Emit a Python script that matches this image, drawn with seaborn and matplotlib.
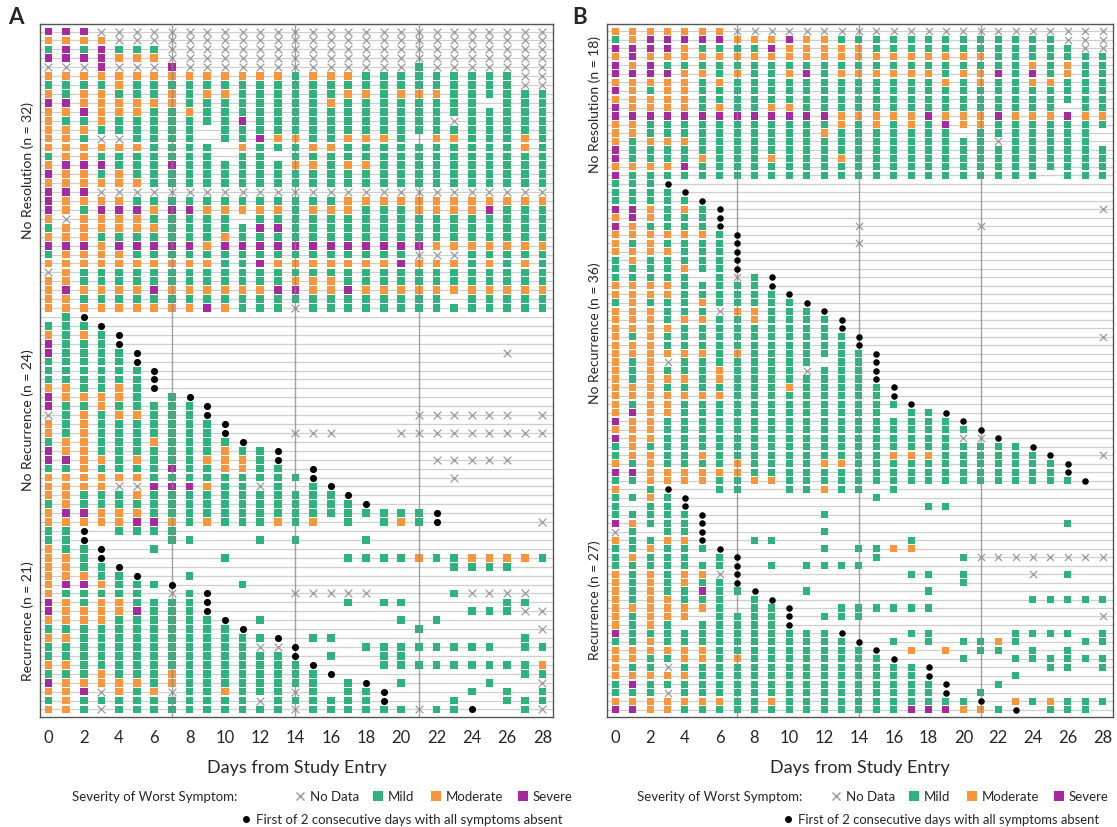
import matplotlib
matplotlib.use("Agg")
import matplotlib.pyplot as plt
import matplotlib.lines as mlines
import matplotlib.transforms as mtransforms
import pandas as pd
import seaborn as sns

# one string per participant, one character per day 0..28
# M mild, O moderate, S severe, X no data, * first of 2 absent days, . nothing
days = list(range(29))
tick_days = list(range(0, 29, 2))

a_rows = [
    "SSSXXXXXXXXXXXX" "XXXXXXXXXXXXXX",
    "OOOOXXXXXXXXXXX" "XXXXXXXXXXXXXX",
    "MSMSMMMXXXXXXXX" "XXXXXXXXXXXXXX",
    "SSSSOOOXXXXXXXX" "XXXXXXXXXXXXXX",
    "XXXSXXXSXXXXXXX" "XXXXXXMXXXXXXX",
    "OOOOOOOOOOOOOOM" "OOOMMMMMMMMMXX",
    "MMMMOMMMMMMMMMM" "MMMMMMMMMMMMXX",
    "OMOOMMMOMOOMMMM" "MMOOMOOOMMMMMM",
    "SSOOOOOOMMMMMMM" "MOMMMMMMMM.MMM",
    "OOSOOOMMOMMMMMM" "MMMMMMMMMMMMMM",
    "OMMOMMMMMMMSMMM" "MMMMMMMMXMMMMM",
    "OOOMMMMMM.MMMMM" "MMMMMMMMMMMMMM",
    "OOMXXMMMM.MMSOO" "MMOOOM.OOMMMOM",
    "OOOOOOMMMM.OMMM" "OOMMMMMMMMMMOM",
    "MOOMMMMMMM.MM.M" "MMMMMMMMMMMMMM",
    "OSSSMMMSMMMMMMO" "OMOOMMMMMMMMMM",
    "SOOMOMMMMMMMMMM" "MMMMMMMMMMMMMM",
    "OOOOOOMMMMMMMMM" "MMMMMMMMMMMMMM",
    "SSSXXXXXXXXXXXX" "XXXXXXXXXXXXXX",
    "SOOOOMMMMMMMMMM" "MMOOOOOOOOOOOO",
    "SOMSSSOSSOOOOOM" "OOOMMMOOOOSMMM",
    "OXOOOOMMMMM.MMM" "MMMMMMMMMMMMMM",
    "MOOOOOOMMMMMSSM" "MMMMMMMMMMMMMM",
    "OOOMMMMMMMOMMMM" "MMMMMMMMMMMMMM",
    "SSSOSSSSSOSSSSS" "SSSSSSSOOOOOOO",
    "MOOOOMMMMMMMMMM" "MMMMMMXXXMMMMM",
    "OOOOOOOOOOMMSOO" "OOOOOSOOOMOMOM",
    "XOMMMMMMMMMMMMM" "MMMMMMMMMMMMMM",
    "OOMMMMMMMMMMMMO" "OOMMMMMMMMMMMM",
    "OSOOOOSOOOOOOSS" "OOSOOOOOOOOOOO",
    "OOMMMMMMMMMMMMM" "MMMMMMMM.MMMMM",
    "OOOOOOOOOSOMMMX" "MMMMMMMMMMMMMM",
    ".M*............" "..............",
    "MMM*..........." "..............",
    "OMOM*.........." "..............",
    "SMMM*.........." "..............",
    "SMMMM*........." "...........X..",
    "MMMMM*........." "..............",
    "MMMMMM*........" "..............",
    "MMMMMM*........" "..............",
    "OOMMOM*........" "..............",
    "SOOOOM.M*......" "..............",
    "SMMOMMMMM*....." "..............",
    "XMOMOOMMM*....." "......XXXXXX.X",
    "OMOMMMMMMM*...." "..............",
    "OMOMMMMMMM*...X" "XX...XXXXXXXXX",
    "MOOMMMOMMMM*..." "..............",
    "SOOMMMMMMMOMM*." "..............",
    "SSOOMOMMMOOOM*." ".......XXXXX..",
    "MMOMMMMSMMOOMM." "*.............",
    "OOOOOOMMMMMMMMM" "*.......X.....",
    "OOOOXXSSSOMMXM." "M*............",
    "OOMMMOMMMMMMMMM" "MM*...........",
    "MOMMMMMMMMMMMMM" "MMM*..........",
    "OSSOOOMMMMMMMMM" "MMMMMMM*......",
    "OOOOOSSOMOMMMOM" "O.M.MOM*.....X",
    "MM*.MMMM......." "..............",
    "MM*....MM...M.M" "...M..........",
    "OMM*..M........" "..............",
    "OOM*......M...." "..MMMMOMMOOOOM",
    "OOMM*.........." "........MMMM..",
    "OOOMM*..M......" "..............",
    "OSSOMMM*...M..." "..............",
    "OMMMMM.XM*....X" "XXXX....MXXXX.",
    "SOMOOMMMM*....." "..M.MM.....MM.",
    "SOOOOSMMM*....." ".........MMMXX",
    "OOOOMMMMMM*.M.." ".....M.M......",
    "MMMMMMMMMMM*..." "......M......X",
    "OOMMMMMMMMMMM*." "MM..........M.",
    "MMMMMMMMMMMMXX*" "...MMMMMMMM.MM",
    "MMMMMMMMMMMMMM*" ".M..MM........",
    "OOMMMMMMMMMMMMM" "*...MMMMMMMMMO",
    "MMMOMMMOMMMMMMM" "M*..........MM",
    "SOOOOOMOMMMMMMM" "M.M*.M....M..X",
    "OOSXOMOXMMOMMMX" "M.MM*....M.M.M",
    "MOMMMMMMMMMMXMM" "MMMM*...M..MMM",
    "OOMXMMMMMMMMMMX" "MMMMMMXMM*..MX",
]

b_rows = [
    "OOOOOOOXXXXXXXX" "XXXXXXXXXXXXXX",
    "MOSSSSSOOOSOOMM" "MMMMMMMMMMMXXX",
    "SSSSOMMMMSOOOOO" "MMMMMMMMMMMMXX",
    "OSOOOOOOOOOOOOO" "OOOOOOOMMMMMMM",
    "SOSMMMMMMMMMMMM" "MMMMMMMMMOMOMM",
    "SSSSOOMOMMOSMOO" "OOOOMOOSMSMOMM",
    "OOOOOMOMMMMMMMM" "MMMMOMOMMOOMMM",
    "SOMOOMMMMMMMMMM" "MMMMMMMMMMMMMM",
    "OOOOOMMMMMMMMMM" "MMMMMMMMMMMMMM",
    "SOOOOMOMMOOMMMM" "MMMMMMMMMMM.MM",
    "SSSSSSSSSSSSSOO" "OOOSOOOSOOOSOO",
    "OOMMMMMMMMMMMOM" "OMOMSOOMMMMMMM",
    "OOMMMMMMMMMMOMM" "MMMMM.MMMMMMM.",
    "OMOOOMMMMMMMMMM" "MMMMMMMXMMMMM.",
    "SMMMMMMMMMMMMMM" "MMMMMMMMMMMMMM",
    "SMMMMOMMMOMMMOM" "MMMMMMMMMMMMMM",
    "OOOOSMMMMMMMMMM" "MMMMMMMMMMMMMM",
    "SMMMMMMMMMMMMMM" "MMMMMMMMMM.MMM",
    "MMM*..........." "..............",
    "MMMM*.........." "..............",
    "MMMMM*........." "..............",
    "SSOMOM*........" ".............X",
    "OSOMMM*........" "..............",
    "SOMMMM*.......X" "......X.......",
    "OOOOOOM*......." "..............",
    "OMOMMMM*......X" "..............",
    "OOOOMMM*......." "..............",
    "MOMMMMM*......." "..............",
    "MMMMOMM*......." "..............",
    "MMMMM.MXM*....." "..............",
    "OOOOMMMMM*....." "..............",
    "OOOOMMMMMM*...." "..............",
    "MOMMMOMMMMM*..." "..............",
    "OOOMMMXOOMMM*.." "..............",
    "OOOMOOMMOMMMM*." "..............",
    "OOOOMMMMMMMMM*." "..............",
    "OMOMMMMMMMMMMM*" ".............X",
    "OOOMMMMMMMMMMM*" "..............",
    "OOOOOOMOMMMMMMM" "*.............",
    "OMOXMMMMMMMM.MM" "*.............",
    "OMOMMMOMMMMXMMM" "*.............",
    "OMOOOMOMMMMMMMM" "*.............",
    "OOOMMMMMMMOMMMM" "M*............",
    "OOOOOOOMMMMMMMM" "M*............",
    "OMOOMMMMMMMMMMM" "MM*...........",
    "OSOOMMMMMMMMMMM" "M.MM*.........",
    "SOOMMMMMMMMMMMM" "MMMMM*........",
    "OOOMMMMMMMMMMMM" "MMMMMM*.......",
    "SOOMMMMMMMMMMMM" "MMMMMXX*......",
    "MOMMMMMMMMMMMMM" "MMMMMMMMM*....",
    "MOOMMOMMMMMMMMM" "MOOOMMMMMM*..X",
    "OMOMMMMOMMMMOOM" "MMMMMMMMMMM*..",
    "SSOOOOOOMMMMMMM" "MMMMMMMMMMM*..",
    "MMOOOOMMOOMMMMM" "MMMMMMMMMMMM*.",
    "O.M*..MM..MMOMM" ".M............",
    "MMOM*.........." "M.............",
    "M.MM*.........." "...MM.........",
    "MMMMM*......M.." "..............",
    "SOMMM*........." "...........M..",
    "XM.MM*......M.." "..............",
    "OMMOO*..MM....." "..M...........",
    "MMOMMM*.....M.M" "MOO...........",
    "MOMMM.M*......." "M....MXXXXXXXX",
    "MMMMMMM*.M.MMMM" "..............",
    "OMOMOOX*......." "..MM.M...X.M..",
    "OMOMOMM*......." ".....M........",
    "OMOMMSMM*..M..." "...M..........",
    "OMOOMMM.M*....." ".........MMMMM",
    "OOOOOOM.MM*..MM" "MMMM..........",
    "OMOOO.MMMM*.MMM" ".............X",
    "OMOM.MMMMM*...." "..............",
    "SMMMMMMMMMMMM*." "..MM....MMMM.M",
    "MMOMMMMMMMMMMM*" ".M.M.MMOM...MM",
    "OOOOOOMMMMMMMMM" "*.O.O.MM.M.M..",
    "OOMMOOMOMMMMMMM" "M*...M..MMMMMM",
    "OMMXMMMMMMMMMMM" "MMM*......MM.M",
    "OOOOOMMMMMMMMMM" "MMM*....M.....",
    "MSMMMMMMMMMMMMM" "MMMM*..M......",
    "MMMXMMMMMMMMMMM" "MMMM*.M.......",
    "OOOOOOOMMOMMMMM" "MMMMMM*.OMOMMM",
    "SSOOMMMMMMMMMMM" "MMSSSOOM*.MMM.",
]

a_groups = ["No Resolution (n = 32)", "No Recurrence (n = 24)", "Recurrence (n = 21)"]
a_sizes = [32, 24, 21]
b_groups = ["No Resolution (n = 18)", "No Recurrence (n = 36)", "Recurrence (n = 27)"]
b_sizes = [18, 36, 27]

code_names = {"M": "Mild", "O": "Moderate", "S": "Severe", "X": "No Data", "*": "Absent"}
palette = {"Mild": "#2fb27c", "Moderate": "#f7963c", "Severe": "#a52a9c"}
nodata_col = "#9a9a9a"

W, H = 1117, 828


def to_long(rows):
    recs = []
    for i, r in enumerate(rows):
        r = r.ljust(29, ".")[:29]
        for d, c in zip(days, r):
            if c in code_names:
                recs.append((i, d, code_names[c]))
    return pd.DataFrame(recs, columns=["row", "day", "status"])


def draw_panel(ax, rows, groups, sizes, sq):
    df = to_long(rows)
    n = len(rows)
    for i in range(n):
        ax.axhline(i, color="#cfcfcf", lw=0.9, zorder=0)
    for d in (7, 14, 21):
        ax.axvline(d, color="#8a8a8a", lw=1.0, zorder=4, alpha=0.8)

    sev = df[df["status"].isin(["Mild", "Moderate", "Severe"])]
    sns.scatterplot(data=sev, x="day", y="row", hue="status", palette=palette,
                    hue_order=["Mild", "Moderate", "Severe"], marker="s", s=sq,
                    linewidth=0, ax=ax, legend=False, zorder=3)
    nd = df[df["status"] == "No Data"]
    sns.scatterplot(data=nd, x="day", y="row", marker="x", color=nodata_col,
                    s=sq, linewidth=0.9, ax=ax, legend=False, zorder=3)
    ab = df[df["status"] == "Absent"]
    sns.scatterplot(data=ab, x="day", y="row", marker="o", color="black",
                    s=sq * 0.85, linewidth=0, ax=ax, legend=False, zorder=5)

    ax.set_xlim(-0.48, 28.6)
    ax.set_ylim(n - 0.15, -0.85)
    ax.set_xticks(tick_days)
    ax.set_xticklabels([str(t) for t in tick_days], fontsize=12)
    ax.set_yticks([])
    ax.tick_params(axis="x", length=5, width=0.9, color="#555555", pad=4)
    ax.set_xlabel("Days from Study Entry", fontsize=13, labelpad=10)
    ax.set_ylabel("")
    for sp in ax.spines.values():
        sp.set_color("#555555")
        sp.set_linewidth(1.0)

    trans = mtransforms.blended_transform_factory(ax.transAxes, ax.transData)
    start = 0
    for label, k in zip(groups, sizes):
        mid = start + (k - 1) / 2
        ax.text(-0.012, mid, label, transform=trans, rotation=90, ha="right",
                va="center", fontsize=10)
        start += k


def px(x, y):
    return x / W, 1 - y / H


def draw_legend(fig, title_x, items, dot_x, note_size):
    y1, y2 = 797, 820
    fig.text(*px(title_x, y1), "Severity of Worst Symptom:", fontsize=9.5,
             ha="left", va="center")
    for mx, label, kind in items:
        fx, fy = px(mx, y1)
        if kind == "No Data":
            h = mlines.Line2D([fx], [fy], marker="x", color=nodata_col, ms=6, mew=1,
                              linestyle="none", transform=fig.transFigure)
        else:
            h = mlines.Line2D([fx], [fy], marker="s", color=palette[kind], ms=7, mew=0,
                              linestyle="none", transform=fig.transFigure)
        fig.add_artist(h)
        fig.text(*px(mx + 10, y1), label, fontsize=9.5, ha="left", va="center")
    fx, fy = px(dot_x, y2)
    fig.add_artist(mlines.Line2D([fx], [fy], marker="o", color="black", ms=5, mew=0,
                                 linestyle="none", transform=fig.transFigure))
    fig.text(*px(dot_x + 10, y2), "First of 2 consecutive days with all symptoms absent",
             fontsize=note_size, ha="left", va="center")


sns.set_theme(style="white")
plt.rcParams["font.family"] = ["Lato", "DejaVu Sans"]

fig = plt.figure(figsize=(W / 100, H / 100), dpi=100)
axA = fig.add_axes([40 / W, 1 - 718 / H, (553 - 40) / W, (718 - 25) / H])
axB = fig.add_axes([607 / W, 1 - 718 / H, (1113 - 607) / W, (718 - 25) / H])

draw_panel(axA, a_rows, a_groups, a_sizes, 31)
draw_panel(axB, b_rows, b_groups, b_sizes, 26)

fig.text(*px(8, 18), "A", fontsize=16, fontweight="bold", ha="left", va="center")
fig.text(*px(572, 18), "B", fontsize=16, fontweight="bold", ha="left", va="center")

draw_legend(fig, 72, [(300, "No Data", "No Data"), (378, "Mild", "Mild"),
                      (436, "Moderate", "Moderate"), (523, "Severe", "Severe")], 246, 9.5)
draw_legend(fig, 637, [(836, "No Data", "No Data"), (914, "Mild", "Mild"),
                       (972, "Moderate", "Moderate"), (1059, "Severe", "Severe")], 788, 9.4)

fig.savefig("out.png", dpi=100)
